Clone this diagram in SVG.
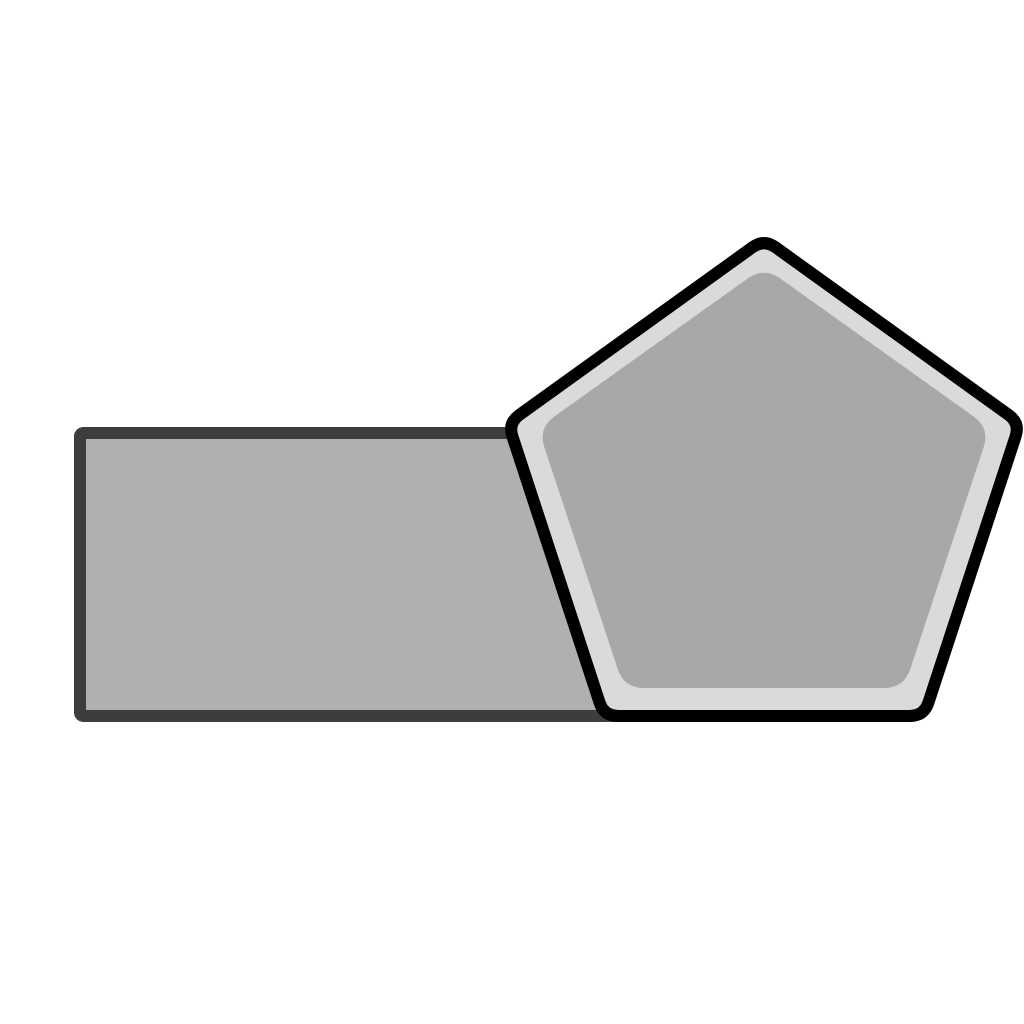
<svg xmlns="http://www.w3.org/2000/svg" width="1024" height="1024" viewBox="0 0 1024 1024">
<style>
.rect{fill:#b0b0b0;stroke:#3d3d3d;stroke-width:12;stroke-linejoin:round}
.pent{fill:#dadada;stroke:#000;stroke-width:12;stroke-linejoin:round}
.inner{fill:#a8a8a8}
</style>
<rect width="1024" height="1024" fill="#fff"/>
<g id="rectangle">
<rect class="rect" x="80" y="433" width="540" height="283" rx="3"/>
</g>
<g id="pentagon">
<path class="pent" d="M775.4,247.2 L1008.6,414.8 Q1020,423 1015.6,436.3 L928.4,702.7 Q924,716 910,716 L618,716 Q604,716 599.6,702.7 L512.4,436.3 Q508,423 519.4,414.8 L752.6,247.2 Q764,239 775.4,247.2 Z"/>
<path class="inner" d="M780.3,278.6 L973.7,416.4 Q990,428 983.7,447 L910.3,669 Q904,688 884,688 L644,688 Q624,688 617.7,669 L544.3,447 Q538,428 554.3,416.4 L747.7,278.6 Q764,267 780.3,278.6 Z"/>
</g>
<g id="connectors"></g>
</svg>
